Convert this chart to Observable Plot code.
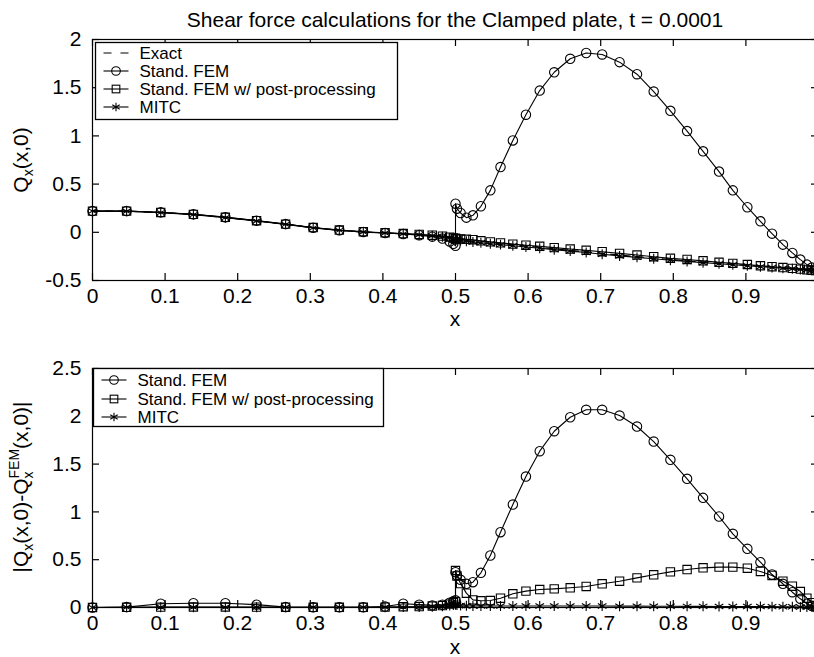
<!DOCTYPE html>
<html><head><meta charset="utf-8">
<script src="https://cdn.jsdelivr.net/npm/d3@7"></script>
<script src="https://cdn.jsdelivr.net/npm/@observablehq/plot@0.6"></script>
<style>
html,body{margin:0;padding:0;background:#fff;overflow:hidden;width:814px;height:657px;}
#chart{position:relative;width:814px;height:657px;overflow:hidden;background:#fff;}
#chart svg{display:block;max-width:none;}
</style></head><body><div id="chart"></div>
<script>
// ---------- data ----------
const xLeft  = [0, 0.047, 0.094, 0.139, 0.183, 0.226, 0.266, 0.304, 0.340, 0.373, 0.403, 0.428, 0.450, 0.468, 0.482, 0.492, 0.497, 0.500];
const xRight = [0.500, 0.502, 0.507, 0.515, 0.524, 0.535, 0.548, 0.562, 0.579, 0.597, 0.616, 0.636, 0.658, 0.680, 0.702, 0.726, 0.750, 0.773, 0.796, 0.819, 0.841, 0.863, 0.882, 0.902, 0.920, 0.936, 0.951, 0.964, 0.975, 0.984, 0.991, 0.996, 1.000];

// top panel: Q_x(x,0)
const exactL = [0.220, 0.219, 0.205, 0.184, 0.153, 0.118, 0.083, 0.047, 0.021, 0.004, -0.006, -0.015, -0.025, -0.034, -0.043, -0.050, -0.054, -0.057];
const exactR = [-0.057, -0.060, -0.066, -0.074, -0.083, -0.092, -0.103, -0.115, -0.128, -0.142, -0.156, -0.171, -0.187, -0.203, -0.219, -0.236, -0.252, -0.267, -0.282, -0.296, -0.309, -0.321, -0.331, -0.341, -0.350, -0.358, -0.365, -0.371, -0.377, -0.382, -0.386, -0.389, -0.391];
const femL   = [0.220, 0.221, 0.207, 0.187, 0.157, 0.121, 0.085, 0.048, 0.021, 0.002, -0.008, -0.018, -0.030, -0.045, -0.065, -0.095, -0.120, -0.140];
const femR   = [0.297, 0.245, 0.200, 0.152, 0.176, 0.270, 0.435, 0.677, 0.953, 1.220, 1.470, 1.660, 1.800, 1.860, 1.845, 1.765, 1.640, 1.460, 1.260, 1.050, 0.840, 0.630, 0.435, 0.260, 0.114, -0.014, -0.128, -0.214, -0.283, -0.335, -0.366, -0.382, -0.391];
const postL  = [0.220, 0.220, 0.206, 0.186, 0.156, 0.120, 0.085, 0.049, 0.023, 0.006, -0.004, -0.013, -0.022, -0.030, -0.040, -0.050, -0.058, -0.062];
const postR  = [-0.066, -0.068, -0.070, -0.073, -0.077, -0.088, -0.099, -0.110, -0.123, -0.134, -0.145, -0.159, -0.174, -0.187, -0.201, -0.219, -0.236, -0.253, -0.270, -0.282, -0.296, -0.311, -0.322, -0.334, -0.347, -0.357, -0.366, -0.374, -0.382, -0.390, -0.394, -0.397, -0.399];
const mitcL  = [0.220, 0.218, 0.204, 0.183, 0.152, 0.117, 0.082, 0.046, 0.020, 0.003, -0.007, -0.016, -0.026, -0.036, -0.047, -0.058, -0.066, -0.072];
const mitcR  = [-0.076, -0.080, -0.086, -0.092, -0.100, -0.108, -0.118, -0.128, -0.140, -0.152, -0.165, -0.180, -0.195, -0.210, -0.228, -0.245, -0.260, -0.275, -0.290, -0.302, -0.315, -0.327, -0.337, -0.347, -0.357, -0.365, -0.372, -0.379, -0.385, -0.390, -0.394, -0.397, -0.400];

// bottom panel: |Q_x - Q_x^FEM|
const errFemL  = [0.000, 0.004, 0.040, 0.045, 0.045, 0.030, 0.004, 0.002, 0.002, 0.003, 0.010, 0.040, 0.030, 0.022, 0.030, 0.050, 0.065, 0.075];
const errFemR  = [0.370, 0.335, 0.290, 0.248, 0.265, 0.363, 0.544, 0.788, 1.077, 1.370, 1.635, 1.844, 1.990, 2.068, 2.068, 2.008, 1.893, 1.736, 1.545, 1.346, 1.147, 0.952, 0.771, 0.614, 0.474, 0.345, 0.248, 0.160, 0.091, 0.039, 0.015, 0.005, 0.000];
const errPostL = [0.000, 0.002, 0.004, 0.006, 0.006, 0.004, 0.003, 0.002, 0.002, 0.002, 0.004, 0.008, 0.010, 0.015, 0.020, 0.035, 0.050, 0.060];
const errPostR = [0.387, 0.330, 0.250, 0.150, 0.080, 0.070, 0.073, 0.097, 0.143, 0.171, 0.188, 0.195, 0.206, 0.220, 0.248, 0.275, 0.310, 0.342, 0.373, 0.397, 0.415, 0.422, 0.422, 0.411, 0.377, 0.335, 0.275, 0.223, 0.167, 0.097, 0.050, 0.020, 0.000];
const errMitcL = [0.000, 0.002, 0.002, 0.003, 0.003, 0.002, 0.002, 0.002, 0.002, 0.002, 0.003, 0.004, 0.005, 0.008, 0.012, 0.020, 0.025, 0.030];
const errMitcR = [0.030, 0.025, 0.020, 0.018, 0.016, 0.015, 0.015, 0.015, 0.015, 0.015, 0.015, 0.015, 0.015, 0.015, 0.015, 0.014, 0.014, 0.013, 0.013, 0.012, 0.012, 0.011, 0.011, 0.010, 0.010, 0.009, 0.008, 0.007, 0.006, 0.005, 0.004, 0.003, 0.002];

const xTicks = [0, 0.1, 0.2, 0.3, 0.4, 0.5, 0.6, 0.7, 0.8, 0.9];
const xTickLabels = ["0", "0.1", "0.2", "0.3", "0.4", "0.5", "0.6", "0.7", "0.8", "0.9"];
const topYTicks = [-0.5, 0, 0.5, 1, 1.5, 2];
const topYTickLabels = ["-0.5", "0", "0.5", "1", "1.5", "2"];
const botYTicks = [0, 0.5, 1, 1.5, 2, 2.5];
const botYTickLabels = ["0", "0.5", "1", "1.5", "2", "2.5"];

const titleText = "Shear force calculations for the Clamped plate, t = 0.0001";
const topLegend = ["Exact", "Stand. FEM", "Stand. FEM w/ post-processing", "MITC"];
const botLegend = ["Stand. FEM", "Stand. FEM w/ post-processing", "MITC"];

// ---------- helpers ----------
const rows = (L, R) => xLeft.map((x, i) => ({x, y: L[i]})).concat(xRight.map((x, i) => ({x, y: R[i]})));
const W = 830, ML = 92, MR = 12, TL = 7, R = 4.7;
const FONT = "'Liberation Sans', Arial, Helvetica, sans-serif";

function seriesMarks(data, symbol, dashed) {
  const m = [Plot.line(data, {x: "x", y: "y", stroke: "black", strokeWidth: 1.1, strokeDasharray: dashed ? "7,6" : null})];
  if (symbol) m.push(Plot.dot(data, {x: "x", y: "y", symbol, r: R, stroke: "black", strokeWidth: 1.1, fill: "none"}));
  return m;
}

function panel({height, marginTop, marginBottom, yDomain, yTicks, yLabels, series}) {
  const innerH = height - marginTop - marginBottom;
  const innerW = W - ML - MR;
  return Plot.plot({
    width: W, height, marginLeft: ML, marginRight: MR, marginTop, marginBottom,
    x: {domain: [0, 1]},
    y: {domain: yDomain},
    style: {fontFamily: FONT, fontSize: "21px", maxWidth: "none", background: "white", color: "black", overflow: "visible"},
    marks: [
      Plot.frame({stroke: "black", strokeWidth: 1.2}),
      Plot.tickX(xTicks, {x: d => d, insetTop: innerH - TL, stroke: "black", strokeWidth: 1.2}),
      Plot.tickX(xTicks, {x: d => d, insetBottom: innerH - TL, stroke: "black", strokeWidth: 1.2}),
      Plot.tickY(yTicks, {y: d => d, insetRight: innerW - TL, stroke: "black", strokeWidth: 1.2}),
      Plot.tickY(yTicks, {y: d => d, insetLeft: innerW - TL, stroke: "black", strokeWidth: 1.2}),
      Plot.axisX({ticks: xTicks, tickFormat: d => xTickLabels[xTicks.indexOf(d)], tickSize: 0, tickPadding: 8, label: null, fontSize: 21}),
      Plot.axisY({ticks: yTicks, tickFormat: d => yLabels[yTicks.indexOf(d)], tickSize: 0, tickPadding: 11, label: null, fontSize: 21}),
      ...series
    ]
  });
}

function legend(svg, x0, y0, w, h, rowsY, labels, kinds) {
  const g = d3.select(svg).append("g").attr("text-anchor", "start");
  g.append("rect").attr("x", x0).attr("y", y0).attr("width", w).attr("height", h)
    .attr("fill", "white").attr("stroke", "black").attr("stroke-width", 1.3);
  labels.forEach((lab, i) => {
    const cy = rowsY[i], k = kinds[i];
    g.append("line").attr("x1", x0 + 8).attr("x2", x0 + 33).attr("y1", cy).attr("y2", cy)
      .attr("stroke", "black").attr("stroke-width", 1.1).attr("stroke-dasharray", k === "dash" ? "8,9" : null);
    const cx = x0 + 20.5;
    if (k === "circle") g.append("circle").attr("cx", cx).attr("cy", cy).attr("r", R - 0.4).attr("fill", "none").attr("stroke", "black").attr("stroke-width", 1.1);
    if (k === "square") { const s = (R - 0.4) * Math.sqrt(Math.PI); g.append("rect").attr("x", cx - s/2).attr("y", cy - s/2).attr("width", s).attr("height", s).attr("fill", "none").attr("stroke", "black").attr("stroke-width", 1.1); }
    if (k === "asterisk") {
      const r = R - 0.4, ry = r * Math.sqrt(3) / 2;
      g.append("path").attr("d", `M${cx},${cy - r}L${cx},${cy + r}M${cx - ry},${cy - r/2}L${cx + ry},${cy + r/2}M${cx - ry},${cy + r/2}L${cx + ry},${cy - r/2}`)
        .attr("stroke", "black").attr("fill", "none").attr("stroke-width", 1.1);
    }
    g.append("text").attr("x", x0 + 44).attr("y", cy).attr("dy", "0.35em").attr("font-size", 17)
      .attr("text-anchor", "start").attr("font-family", FONT).attr("fill", "black").text(lab);
  });
}

// ---------- top panel ----------
const topSvg = panel({
  height: 330, marginTop: 39, marginBottom: 50,
  yDomain: [-0.5, 2], yTicks: topYTicks, yLabels: topYTickLabels,
  series: [
    ...seriesMarks(rows(exactL, exactR), null, true),
    ...seriesMarks(rows(femL, femR), "circle"),
    ...seriesMarks(rows(postL, postR), "square"),
    ...seriesMarks(rows(mitcL, mitcR), "asterisk")
  ]
});
{
  const s = d3.select(topSvg);
  s.append("text").attr("x", 455).attr("y", 27).attr("text-anchor", "middle").attr("font-size", 21).attr("fill", "black").text(titleText);
  s.append("text").attr("x", 455).attr("y", 326).attr("text-anchor", "middle").attr("font-size", 21).attr("fill", "black").text("x");
  const t = s.append("text").attr("transform", "translate(28,160) rotate(-90)").attr("text-anchor", "middle").attr("font-size", 21).attr("fill", "black");
  t.append("tspan").text("Q");
  t.append("tspan").attr("font-size", 14).attr("dy", 5).text("x");
  t.append("tspan").attr("dy", -5).text("(x,0)");
  legend(topSvg, 95.5, 42.5, 302, 77, [53, 71, 89, 107], topLegend, ["dash", "circle", "square", "asterisk"]);
}

// ---------- bottom panel ----------
const botSvg = panel({
  height: 327, marginTop: 38, marginBottom: 50,
  yDomain: [0, 2.5], yTicks: botYTicks, yLabels: botYTickLabels,
  series: [
    ...seriesMarks(rows(errFemL, errFemR), "circle"),
    ...seriesMarks(rows(errPostL, errPostR), "square"),
    ...seriesMarks(rows(errMitcL, errMitcR), "asterisk")
  ]
});
{
  const s = d3.select(botSvg);
  s.append("text").attr("x", 455).attr("y", 324).attr("text-anchor", "middle").attr("font-size", 21).attr("fill", "black").text("x");
  const t = s.append("text").attr("transform", "translate(28,157) rotate(-90)").attr("text-anchor", "middle").attr("font-size", 21).attr("fill", "black");
  t.append("tspan").text("|Q");
  t.append("tspan").attr("font-size", 14).attr("dy", 5).text("x");
  t.append("tspan").attr("dy", -5).text("(x,0)-Q");
  t.append("tspan").attr("font-size", 14).attr("dy", 5).text("x");
  t.append("tspan").attr("font-size", 14).attr("dx", -7).attr("dy", -14).text("FEM");
  t.append("tspan").attr("dy", 9).text("(x,0)|");
  legend(botSvg, 93.5, 38.5, 290, 58, [50, 69, 87], botLegend, ["circle", "square", "asterisk"]);
}

document.getElementById("chart").append(topSvg, botSvg);
</script>
</body></html>
